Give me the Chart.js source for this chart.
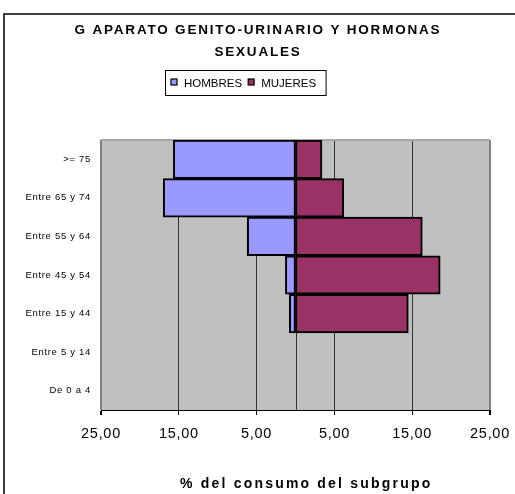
<!DOCTYPE html>
<html>
<head>
<meta charset="utf-8">
<script src="https://cdn.jsdelivr.net/npm/chart.js@4.4.1/dist/chart.umd.min.js"></script>
<style>
    html, body { margin: 0; padding: 0; background: #fff; overflow: hidden; }
</style>
</head>
<body>
<canvas id="grafico" width="515" height="494"></canvas>
<script>
// === DATOS ===
const grupos = [">= 75", "Entre 65 y 74", "Entre 55 y 64", "Entre 45 y 54", "Entre 15 y 44", "Entre 5 y 14", "De 0 a 4"];
const hombres = [15.7, 17.0, 6.2, 1.3, 0.8, 0, 0];
const mujeres = [3.4, 6.2, 16.3, 18.6, 14.5, 0, 0];
const series = ["HOMBRES", "MUJERES"];
const colores = ["#9999ff", "#993366"];
const ticksX = [-25, -15, -5, 5, 15, 25];
const titulo = ["G APARATO GENITO-URINARIO Y HORMONAS", "SEXUALES"];
const tituloEje = "% del consumo del subgrupo";

const FUENTE = '"Liberation Sans", Arial, sans-serif';

// formato 25,00 (sin signo, coma decimal)
function fmt(v) {
    return Math.abs(v).toFixed(2).replace(".", ",");
}

// === PLUGIN: fondo gris, linea del cero, titulo, leyenda y marco ===
const marcoExcel = {
    id: "marcoExcel",
    beforeDraw(chart) {
        const { ctx, chartArea: a } = chart;
        ctx.save();
        ctx.fillStyle = "#c0c0c0";
        ctx.fillRect(a.left, a.top, a.right - a.left, a.bottom - a.top);
        ctx.restore();
        // las etiquetas de los ejes van algo espaciadas
        ctx.letterSpacing = "0.7px";
    },
    beforeDatasetsDraw(chart) {
        const { ctx, chartArea: a, scales } = chart;
        const x0 = Math.round(scales.x.getPixelForValue(0)) + 0.5;
        ctx.save();
        ctx.strokeStyle = "#333";
        ctx.lineWidth = 1;
        ctx.beginPath();
        ctx.moveTo(x0, a.top);
        ctx.lineTo(x0, a.bottom);
        ctx.stroke();
        ctx.strokeStyle = "#a8a8a8";
        ctx.lineWidth = 2;
        ctx.beginPath();
        ctx.moveTo(a.left, a.top);
        ctx.lineTo(a.right, a.top);
        ctx.stroke();
        ctx.restore();
    },
    afterDraw(chart) {
        const { ctx } = chart;
        ctx.save();
        ctx.fillStyle = "#000";
        ctx.textBaseline = "alphabetic";

        // titulo
        ctx.textAlign = "center";
        ctx.font = "bold 13.5px " + FUENTE;
        ctx.letterSpacing = "1.8px";
        ctx.fillText(titulo[0], 258, 34);
        ctx.fillText(titulo[1], 258, 56);

        // leyenda
        ctx.textAlign = "left";
        ctx.font = "11.5px " + FUENTE;
        ctx.letterSpacing = "0px";
        let cx = 171;
        chart.data.datasets.forEach(ds => {
            ctx.fillStyle = ds.backgroundColor;
            ctx.fillRect(cx, 79, 6, 6);
            ctx.strokeStyle = "#000";
            ctx.lineWidth = 1.2;
            ctx.strokeRect(cx, 79, 6, 6);
            ctx.fillStyle = "#000";
            ctx.fillText(ds.label, cx + 13, 86.5);
            cx += 13 + ctx.measureText(ds.label).width + 6;
        });
        ctx.strokeStyle = "#000";
        ctx.lineWidth = 1;
        ctx.strokeRect(165.5, 70.5, cx - 6 + 10 - 165.5, 25);

        // titulo del eje x
        ctx.font = "bold 14px " + FUENTE;
        ctx.letterSpacing = "2.2px";
        ctx.fillText(tituloEje, 180, 488);

        // marco exterior del grafico
        ctx.strokeStyle = "#000";
        ctx.lineWidth = 1.5;
        ctx.strokeRect(4, 14, 1000, 1000);
        ctx.restore();
    }
};

const ctx = document.getElementById("grafico").getContext("2d");

new Chart(ctx, {
    type: "bar",
    data: {
        labels: grupos,
        datasets: [
            {
                label: series[0],
                data: hombres.map(v => -v),
                backgroundColor: colores[0],
                borderColor: "#000",
                borderWidth: 2,
                borderSkipped: false
            },
            {
                label: series[1],
                data: mujeres,
                backgroundColor: colores[1],
                borderColor: "#000",
                borderWidth: 2,
                borderSkipped: false
            }
        ]
    },
    options: {
        indexAxis: "y",
        responsive: false,
        animation: false,
        devicePixelRatio: 1,
        barPercentage: 1,
        categoryPercentage: 1,
        layout: { padding: { top: 140, right: 25, bottom: 0, left: 0 } },
        plugins: {
            legend: { display: false },
            title: { display: false },
            tooltip: { enabled: false }
        },
        scales: {
            x: {
                stacked: true,
                min: -25,
                max: 25,
                afterBuildTicks: s => { s.ticks = ticksX.map(v => ({ value: v })); },
                afterFit: s => {
                    s.height = 84;
                    s.paddingLeft = 0;
                    s.paddingRight = 0;
                },
                grid: {
                    color: c => (Math.abs(c.tick.value) === 25 ? "#808080" : "#333"),
                    lineWidth: c => (Math.abs(c.tick.value) === 25 ? 2 : 1),
                    tickColor: "#000",
                    tickLength: 5
                },
                border: { display: true, color: "#000", width: 1 },
                ticks: {
                    color: "#000",
                    font: { family: FUENTE, size: 14.5 },
                    padding: 10,
                    maxRotation: 0,
                    callback: v => fmt(v)
                }
            },
            y: {
                stacked: true,
                afterFit: s => { s.width = 101; },
                grid: { display: false },
                border: { display: false },
                ticks: {
                    color: "#000",
                    font: { family: FUENTE, size: 9.5 },
                    padding: 2
                }
            }
        }
    },
    plugins: [marcoExcel]
});
</script>
</body>
</html>
